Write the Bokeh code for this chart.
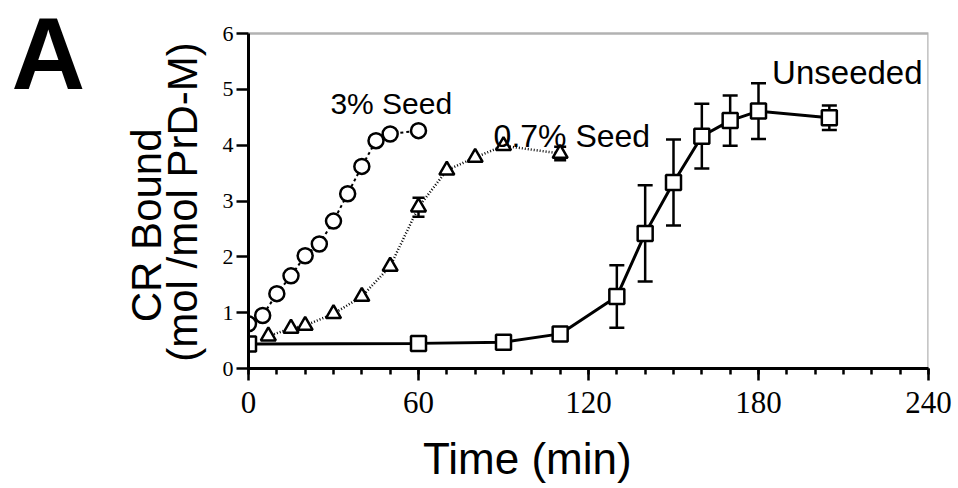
from bokeh.plotting import figure
from bokeh.layouts import row
from bokeh.models import (Label, Whisker, TeeHead, ColumnDataSource, FixedTicker, Range1d,
                          BoxAnnotation)
from bokeh.core.properties import value
from bokeh.embed import file_html
from bokeh.resources import INLINE

# ---- data ----
t_seed3 = [0, 5, 10, 15, 20, 25, 30, 35, 40, 45, 50, 60]
y_seed3 = [0.80, 0.95, 1.34, 1.66, 2.02, 2.23, 2.64, 3.13, 3.62, 4.08, 4.20, 4.26]

t_seed07 = [7, 15, 20, 30, 40, 50, 60, 70, 80, 90, 110]
y_seed07 = [0.58, 0.72, 0.77, 0.98, 1.29, 1.83, 2.89, 3.55, 3.78, 3.99, 3.85]
e_seed07 = [0, 0, 0, 0, 0, 0, 0.17, 0, 0, 0, 0.12]

t_unseeded = [0, 60, 90, 110, 130, 140, 150, 160, 170, 180, 205]
y_unseeded = [0.44, 0.45, 0.47, 0.62, 1.29, 2.42, 3.33, 4.16, 4.44, 4.61, 4.49]
e_unseeded = [0, 0, 0, 0, 0.56, 0.86, 0.77, 0.58, 0.45, 0.50, 0.22]

x_ticks = [0, 60, 120, 180, 240]
x_minor = list(range(0, 241, 10))
y_ticks = [0, 1, 2, 3, 4, 5, 6]
X_MAX, Y_MAX = 240, 6

NB = "\u00a0"
panel_letter = "A"
x_title = "Time (min)" + NB * 10
y_title = "CR Bound" + NB * 7 + "\n(mol /mol PrD-M)" + NB * 3

H = 488
WA = 100          # width of the panel-letter strip
W = 958 - WA      # width of the main chart
FRAME_H = H - 120
Y_TOP = Y_MAX * FRAME_H / (FRAME_H - 33)   # extra headroom so the frame starts at the page top

# ---- main chart ----
p = figure(width=W, height=H, output_backend="svg", toolbar_location=None,
           x_range=Range1d(0, X_MAX), y_range=Range1d(0, Y_TOP),
           min_border_left=248 - WA, min_border_right=30, min_border_top=0, min_border_bottom=120)
p.grid.visible = False
p.background_fill_color = "white"
p.border_fill_color = "white"
p.outline_line_color = None
p.add_layout(BoxAnnotation(left=0, right=X_MAX, bottom=0, top=Y_MAX, fill_alpha=0,
                           line_color="black", line_width=2.5))

p.xaxis.ticker = FixedTicker(ticks=x_ticks, minor_ticks=x_minor)
p.yaxis.ticker = FixedTicker(ticks=y_ticks, minor_ticks=[])
p.yaxis.bounds = (0, Y_MAX)
for ax in (p.xaxis[0], p.yaxis[0]):
    ax.axis_line_width = 3
    ax.axis_line_color = "black"
    ax.major_tick_line_width = 2.5
    ax.minor_tick_line_width = 2.5
    ax.major_tick_line_color = "black"
    ax.minor_tick_line_color = "black"
    ax.major_tick_in = 0
    ax.major_tick_out = 12
    ax.minor_tick_in = 0
    ax.minor_tick_out = 6
    ax.major_label_text_font = "Liberation Serif"
    ax.major_label_text_color = "black"
    ax.axis_label_text_font = "Liberation Sans"
    ax.axis_label_text_font_style = "normal"
    ax.axis_label_text_color = "black"
p.xaxis.major_label_text_font_size = "31px"
p.xaxis.major_label_standoff = 11
p.xaxis.axis_label = x_title
p.xaxis.axis_label_text_font_size = "44px"
p.xaxis.axis_label_standoff = 18

p.yaxis.major_label_text_font_size = "22px"
p.yaxis.major_label_standoff = 3
p.yaxis.axis_label = y_title
p.yaxis.axis_label_text_font_size = "42px"
p.yaxis.axis_label_text_line_height = 0.75
p.yaxis.axis_label_standoff = 14

# Unseeded
src_u = ColumnDataSource(dict(t=t_unseeded, y=y_unseeded))
p.line("t", "y", source=src_u, line_color="black", line_width=3)
eu = [(t, y, e) for t, y, e in zip(t_unseeded, y_unseeded, e_unseeded) if e > 0]
src_ue = ColumnDataSource(dict(t=[a[0] for a in eu], lo=[a[1] - a[2] for a in eu], hi=[a[1] + a[2] for a in eu]))
p.add_layout(Whisker(source=src_ue, base="t", lower="lo", upper="hi", line_width=2.5, line_color="black",
                     upper_head=TeeHead(size=15, line_width=2.5), lower_head=TeeHead(size=15, line_width=2.5)))
p.scatter("t", "y", source=src_u, marker="square", size=15, fill_color="white", line_color="black", line_width=2.5)

# 0.7% seed
src_7 = ColumnDataSource(dict(t=t_seed07, y=y_seed07))
p.line("t", "y", source=src_7, line_color="black", line_width=2.5, line_dash="1 2")
e7 = [(t, y, e) for t, y, e in zip(t_seed07, y_seed07, e_seed07) if e > 0]
src_7e = ColumnDataSource(dict(t=[a[0] for a in e7], lo=[a[1] - a[2] for a in e7], hi=[a[1] + a[2] for a in e7]))
p.add_layout(Whisker(source=src_7e, base="t", lower="lo", upper="hi", line_width=2.5, line_color="black",
                     upper_head=TeeHead(size=12, line_width=2.5), lower_head=TeeHead(size=12, line_width=2.5)))
p.scatter("t", "y", source=src_7, marker="triangle", size=15, fill_color="white", line_color="black", line_width=2.5)

# 3% seed
src_3 = ColumnDataSource(dict(t=t_seed3, y=y_seed3))
p.line("t", "y", source=src_3, line_color="black", line_width=2, line_dash="3 3")
p.scatter("t", "y", source=src_3, marker="circle", size=15, fill_color="white", line_color="black", line_width=2.5)

# series labels
def lab(x, y, text, size, align="left"):
    p.add_layout(Label(x=x, y=y, text=text, text_font="Liberation Sans", text_font_size=size,
                       text_align=align, text_baseline="alphabetic", text_color="black"))

lab(28.9, 4.75, "3% Seed", "30px")
lab(86.5, 4.17, "0.7% Seed", "32px")
lab(237.9, 5.30, "Unseeded", "33px", align="right")

# ---- panel letter strip (frame aligned with the chart's frame) ----
fa = figure(width=WA, height=H, output_backend="svg", toolbar_location=None, title_location=None,
            x_range=Range1d(0, WA), y_range=Range1d(0, Y_TOP),
            x_axis_type=None, y_axis_type=None,
            min_border_left=0, min_border_right=0, min_border_top=0, min_border_bottom=120)
fa.grid.visible = False
fa.outline_line_color = None
fa.background_fill_color = "white"
fa.border_fill_color = "white"
fa.text(x=[11], y=[5.638], text=[panel_letter], text_font=value("Liberation Sans"),
        text_font_size="102px", text_font_style="bold", text_color="black",
        text_baseline="alphabetic", text_align="left")

layout = row(fa, p, spacing=0)
open("out.html", "w").write(file_html(layout, INLINE))
